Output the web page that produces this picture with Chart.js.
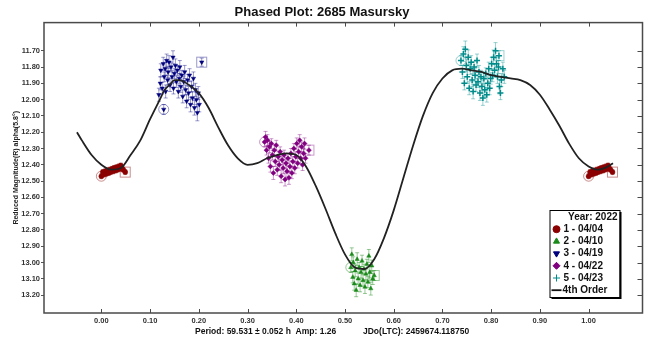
<!DOCTYPE html>
<html>
<head>
<meta charset="utf-8">
<script src="https://cdn.jsdelivr.net/npm/chart.js@4.4.1/dist/chart.umd.min.js"></script>
<style>
  html, body { margin: 0; padding: 0; background: #fff; }
  canvas { display: block; }
</style>
</head>
<body>
<canvas id="myChart" width="648" height="339"></canvas>
<script>
// [phase, reduced mag, error]; first entry = first obs of the night, last entry = last obs
const s1 = [
  [0.000,12.470,0.015],[0.003,12.445,0.015],[0.005,12.460,0.015],[0.008,12.440,0.015],[0.010,12.455,0.015],
  [0.012,12.435,0.015],[0.015,12.450,0.015],[0.017,12.430,0.015],[0.019,12.445,0.015],[0.022,12.425,0.015],
  [0.024,12.440,0.015],[0.026,12.420,0.015],[0.029,12.435,0.015],[0.031,12.415,0.015],[0.033,12.430,0.015],
  [0.036,12.410,0.015],[0.038,12.425,0.015],[0.040,12.405,0.015],[0.042,12.420,0.015],[0.045,12.430,0.015],
  [0.049,12.445,0.015]
];
const s2 = [
  [0.512,13.03,0.030],[0.514,12.95,0.040],[0.516,13.09,0.035],[0.517,13.00,0.035],[0.519,13.13,0.040],
  [0.521,13.05,0.035],[0.523,13.17,0.040],[0.525,12.98,0.040],[0.527,13.10,0.035],[0.529,13.03,0.030],
  [0.531,13.14,0.040],[0.533,13.06,0.035],[0.535,12.99,0.035],[0.537,13.11,0.035],[0.539,13.04,0.030],
  [0.541,13.15,0.040],[0.543,13.07,0.035],[0.545,13.01,0.030],[0.547,13.12,0.035],[0.549,12.96,0.040],
  [0.551,13.06,0.035],[0.553,13.16,0.040],[0.555,13.02,0.035],[0.557,13.10,0.035],[0.560,13.08,0.030]
];
const s3 = [
  [0.128,12.06,0.030],[0.118,11.97,0.040],[0.121,11.90,0.040],[0.122,11.82,0.040],[0.125,11.93,0.035],
  [0.127,11.78,0.040],[0.129,11.86,0.030],[0.131,11.81,0.040],[0.132,11.95,0.040],[0.134,11.76,0.040],
  [0.136,11.88,0.030],[0.137,11.83,0.035],[0.139,11.77,0.040],[0.141,11.91,0.040],[0.143,11.80,0.030],
  [0.145,11.86,0.040],[0.147,11.74,0.040],[0.148,11.93,0.035],[0.150,11.84,0.030],[0.152,11.79,0.040],
  [0.154,11.89,0.035],[0.156,11.82,0.030],[0.158,11.95,0.040],[0.160,11.87,0.030],[0.161,11.80,0.040],
  [0.163,11.92,0.035],[0.165,11.85,0.030],[0.167,11.98,0.040],[0.169,11.89,0.035],[0.171,11.83,0.040],
  [0.173,11.94,0.030],[0.175,12.01,0.040],[0.177,11.88,0.035],[0.179,11.96,0.040],[0.181,11.85,0.040],
  [0.183,12.03,0.045],[0.185,11.92,0.035],[0.187,11.99,0.040],[0.189,11.87,0.040],[0.191,12.05,0.045],
  [0.193,11.94,0.040],[0.195,12.00,0.045],[0.197,12.08,0.050],[0.199,11.96,0.040],[0.201,12.03,0.045],
  [0.206,11.77,0.025]
];
const s4 = [
  [0.335,12.26,0.030],[0.337,12.23,0.035],[0.339,12.31,0.030],[0.341,12.25,0.035],[0.343,12.36,0.030],
  [0.345,12.29,0.035],[0.347,12.41,0.035],[0.349,12.27,0.030],[0.351,12.34,0.030],[0.353,12.45,0.040],
  [0.355,12.31,0.035],[0.357,12.38,0.030],[0.359,12.28,0.030],[0.361,12.43,0.035],[0.363,12.35,0.030],
  [0.365,12.40,0.035],[0.367,12.32,0.030],[0.369,12.47,0.040],[0.371,12.37,0.030],[0.373,12.42,0.035],
  [0.375,12.34,0.030],[0.377,12.49,0.040],[0.379,12.39,0.035],[0.381,12.44,0.035],[0.383,12.36,0.030],
  [0.385,12.48,0.040],[0.387,12.41,0.035],[0.389,12.33,0.030],[0.391,12.45,0.035],[0.393,12.38,0.030],
  [0.395,12.30,0.030],[0.397,12.42,0.035],[0.399,12.35,0.030],[0.401,12.27,0.035],[0.403,12.39,0.030],
  [0.405,12.32,0.030],[0.407,12.25,0.035],[0.409,12.36,0.035],[0.411,12.29,0.030],[0.413,12.40,0.035],
  [0.415,12.33,0.030],[0.417,12.27,0.035],[0.419,12.36,0.030],[0.426,12.31,0.030]
];
const s5 = [
  [0.738,11.76,0.030],[0.741,11.83,0.040],[0.743,11.72,0.045],[0.745,11.90,0.040],[0.747,11.69,0.050],
  [0.749,11.79,0.040],[0.751,11.86,0.040],[0.753,11.74,0.045],[0.755,11.93,0.040],[0.757,11.81,0.035],
  [0.759,11.77,0.040],[0.761,11.88,0.040],[0.763,11.95,0.045],[0.765,11.80,0.035],[0.767,11.85,0.040],
  [0.769,11.91,0.040],[0.771,11.76,0.040],[0.773,11.89,0.035],[0.775,11.83,0.040],[0.777,11.96,0.045],
  [0.779,11.86,0.040],[0.781,11.92,0.040],[0.783,11.99,0.045],[0.785,11.87,0.040],[0.787,11.94,0.040],
  [0.789,11.84,0.035],[0.791,11.97,0.045],[0.793,11.90,0.040],[0.795,11.81,0.040],[0.797,11.93,0.040],
  [0.799,11.87,0.035],[0.801,11.78,0.040],[0.803,11.85,0.040],[0.805,11.74,0.045],[0.807,11.82,0.040],
  [0.809,11.70,0.050],[0.811,11.78,0.040],[0.813,11.86,0.040],[0.815,11.80,0.040],[0.817,11.92,0.045],
  [0.819,11.96,0.040],[0.821,11.88,0.040],[0.824,11.81,0.040],[0.827,11.86,0.040],[0.816,11.73,0.030]
];

// 4th order Fourier fit, read at fixed phases
const fitPhase = [-0.05,-0.04,-0.02,0.00,0.02,0.04,0.06,0.08,0.10,0.12,0.13,0.14,0.15,0.16,0.18,0.20,0.22,0.24,0.26,0.28,
  0.30,0.32,0.34,0.36,0.38,0.40,0.42,0.44,0.46,0.48,0.50,0.52,0.54,0.56,0.58,0.60,0.62,0.64,0.66,0.68,
  0.70,0.72,0.74,0.76,0.78,0.80,0.82,0.84,0.86,0.88,0.90,0.92,0.94,0.96,0.98,1.00,1.02,1.04,1.05];
const fitMag = [12.20,12.25,12.34,12.40,12.43,12.42,12.34,12.25,12.12,12.00,11.94,11.91,11.88,11.88,11.91,11.96,12.05,12.17,12.28,12.36,
  12.40,12.39,12.36,12.34,12.33,12.34,12.41,12.53,12.67,12.82,12.95,13.03,13.04,12.98,12.85,12.68,12.48,12.28,12.10,11.96,
  11.87,11.82,11.81,11.82,11.83,11.85,11.86,11.87,11.88,11.91,11.97,12.06,12.16,12.27,12.36,12.41,12.43,12.41,12.39];

const xTickValues = [0.0,0.1,0.2,0.3,0.4,0.5,0.6,0.7,0.8,0.9,1.0];
const yTickValues = [11.7,11.8,11.9,12.0,12.1,12.2,12.3,12.4,12.5,12.6,12.7,12.8,12.9,13.0,13.1,13.2];

const sessionLabels = ['1 - 04/04','2 - 04/10','3 - 04/19','4 - 04/22','5 - 04/23'];
const sessionColors = ['#8b0000','#1a8a1a','#00007f','#800080','#008b8b'];
const sessionErrColors = ['rgba(139,0,0,0.45)','rgba(26,138,26,0.45)','rgba(0,0,127,0.4)','rgba(128,0,128,0.4)','rgba(0,139,139,0.4)'];
const sessionShapes = ['circle','triangle','triangle','rectRot','cross'];
const sessionRotation = [0,0,180,0,0];

Chart.defaults.font.family = "'Liberation Sans', Arial, sans-serif";
Chart.defaults.color = '#222';

function toPoints(rows) {
  return rows.map((r, i) => ({ x: r[0], y: r[1], e: r[2], mark: i === 0 ? 'first' : (i === rows.length - 1 ? 'last' : null) }));
}

// session 1 sits at phase 0, so it shows again past 1.0
const s1Points = toPoints(s1);
const s1Wrapped = s1Points.concat(s1Points.map(p => ({ ...p, x: p.x + 1 })));

const sessionData = [s1Wrapped, toPoints(s2), toPoints(s3), toPoints(s4), toPoints(s5)];

const datasets = [{
  label: '4th Order',
  data: fitPhase.map((p, i) => ({ x: p, y: fitMag[i] })),
  showLine: true,
  borderColor: '#222',
  borderWidth: 1.8,
  pointRadius: 0,
  cubicInterpolationMode: 'monotone',
  order: 0
}];
sessionData.forEach((d, i) => {
  datasets.push({
    label: sessionLabels[i],
    data: d,
    pointStyle: sessionShapes[i],
    rotation: sessionRotation[i],
    pointRadius: sessionShapes[i] === 'cross' ? 3 : 2.5,
    backgroundColor: sessionColors[i],
    borderColor: sessionColors[i],
    borderWidth: sessionShapes[i] === 'cross' ? 1.5 : 0.5,
    errColor: sessionErrColors[i],
    order: 1
  });
});

const errorBars = {
  id: 'errorBars',
  beforeDatasetsDraw(chart) {
    const { ctx, chartArea: a, scales: { x, y } } = chart;
    ctx.save();
    ctx.beginPath();
    ctx.rect(a.left, a.top, a.width, a.height);
    ctx.clip();
    chart.data.datasets.forEach(ds => {
      if (!ds.errColor) return;
      ctx.strokeStyle = ds.errColor;
      ctx.lineWidth = 1;
      ds.data.forEach(p => {
        const px = x.getPixelForValue(p.x);
        const py = y.getPixelForValue(p.y);
        const y1 = y.getPixelForValue(p.y - p.e);
        const y2 = y.getPixelForValue(p.y + p.e);
        ctx.beginPath();
        ctx.moveTo(px, y1); ctx.lineTo(px, y2);
        ctx.moveTo(px - 2, y1); ctx.lineTo(px + 2, y1);
        ctx.moveTo(px - 2, y2); ctx.lineTo(px + 2, y2);
        ctx.stroke();
        if (p.mark === 'first') {
          ctx.beginPath();
          ctx.arc(px, py, 5, 0, Math.PI * 2);
          ctx.stroke();
        } else if (p.mark === 'last') {
          ctx.strokeRect(px - 5, py - 5, 10, 10);
        }
      });
    });
    ctx.restore();
  }
};

const frame = {
  id: 'frame',
  afterDraw(chart) {
    const { ctx, chartArea: a, scales: { x, y } } = chart;
    ctx.save();
    ctx.strokeStyle = '#4a4a4a';
    ctx.lineWidth = 1.5;
    ctx.strokeRect(a.left, a.top, a.width, a.height);
    ctx.lineWidth = 1;
    ctx.beginPath();
    xTickValues.forEach(v => {
      const px = Math.round(x.getPixelForValue(v)) + 0.5;
      ctx.moveTo(px, a.top); ctx.lineTo(px, a.top + 4);
      ctx.moveTo(px, a.bottom); ctx.lineTo(px, a.bottom - 4);
    });
    yTickValues.forEach(v => {
      const py = Math.round(y.getPixelForValue(v)) + 0.5;
      ctx.moveTo(a.right, py); ctx.lineTo(a.right - 5, py);
    });
    ctx.stroke();

    // footer line under the phase axis
    ctx.fillStyle = '#111';
    ctx.font = "bold 8.5px 'Liberation Sans', Arial, sans-serif";
    ctx.textBaseline = 'middle';
    ctx.textAlign = 'left';
    ctx.fillText('Period: 59.531 \u00b1 0.052 h  Amp: 1.26', 195, 332);
    ctx.fillText('JDo(LTC): 2459674.118750', 363, 332);

    // legend box
    const bx = a.right - 93, by = a.bottom - 103, bw = 70, bh = 87;
    ctx.fillStyle = '#000';
    ctx.fillRect(bx + 2, by + 2, bw, bh);
    ctx.fillStyle = '#fff';
    ctx.fillRect(bx, by, bw, bh);
    ctx.strokeStyle = '#000';
    ctx.lineWidth = 1;
    ctx.strokeRect(bx + 0.5, by + 0.5, bw, bh);
    ctx.font = "bold 10px 'Liberation Sans', Arial, sans-serif";
    ctx.fillStyle = '#111';
    ctx.textAlign = 'right';
    ctx.fillText('Year: 2022', bx + bw - 2, by + 7);
    ctx.textAlign = 'left';
    const rowH = 12.2;
    sessionLabels.forEach((lab, i) => {
      const ry = by + 7 + rowH * (i + 1);
      ctx.fillStyle = sessionColors[i];
      ctx.strokeStyle = sessionColors[i];
      Chart.helpers.drawPoint(ctx, {
        pointStyle: sessionShapes[i],
        rotation: sessionRotation[i],
        radius: 3.5,
        borderWidth: sessionShapes[i] === 'cross' ? 1.8 : 0.5
      }, bx + 7, ry);
      ctx.fillStyle = '#111';
      ctx.fillText(lab, bx + 14, ry);
    });
    const ly = by + 7 + rowH * 6;
    ctx.strokeStyle = '#111';
    ctx.lineWidth = 1.8;
    ctx.beginPath();
    ctx.moveTo(bx + 2, ly); ctx.lineTo(bx + 12, ly);
    ctx.stroke();
    ctx.fillText('4th Order', bx + 13, ly);
    ctx.restore();
  }
};

new Chart(document.getElementById('myChart'), {
  type: 'scatter',
  data: { datasets },
  options: {
    responsive: false,
    animation: false,
    layout: { padding: { top: 0, right: 4, bottom: 0, left: 0 } },
    plugins: {
      legend: { display: false },
      tooltip: { enabled: false },
      title: {
        display: true,
        text: 'Phased Plot: 2685 Masursky',
        color: '#111',
        font: { size: 13, weight: 'bold', lineHeight: 1.2 },
        padding: { top: 5, bottom: 2 }
      }
    },
    scales: {
      x: {
        type: 'linear',
        min: -0.1177,
        max: 1.1106,
        afterBuildTicks: s => { s.ticks = xTickValues.map(v => ({ value: v })); },
        afterFit: s => { s.height = 26; },
        grid: { display: false, drawTicks: false },
        border: { display: false },
        ticks: {
          padding: 3,
          color: '#333',
          font: { size: 7.5, weight: 'bold' },
          callback: v => v.toFixed(2)
        }
      },
      y: {
        type: 'linear',
        reverse: true,
        min: 11.527,
        max: 13.31,
        afterBuildTicks: s => { s.ticks = yTickValues.map(v => ({ value: v })); },
        afterFit: s => { s.width = 44; },
        grid: { drawOnChartArea: false, drawTicks: true, tickLength: 3, color: '#555' },
        border: { display: false },
        ticks: {
          padding: 1,
          color: '#333',
          font: { size: 7.5, weight: 'bold' },
          callback: v => v.toFixed(2)
        },
        title: {
          display: true,
          text: 'Reduced Magnitude(R) alpha(5.8\u00b0)',
          color: '#222',
          font: { size: 7, weight: 'bold' },
          padding: { top: 12, bottom: 0 }
        }
      }
    }
  },
  plugins: [errorBars, frame]
});
</script>
</body>
</html>
